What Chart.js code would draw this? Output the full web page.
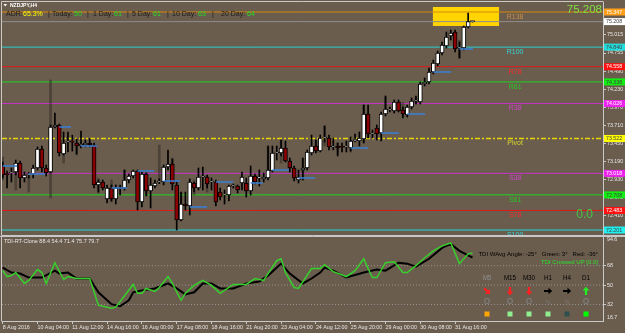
<!DOCTYPE html>
<html>
<head>
<meta charset="utf-8">
<script src="https://cdn.jsdelivr.net/npm/chart.js@4.4.1/dist/chart.umd.min.js"></script>
<style>
  html, body { margin: 0; padding: 0; background: #6B5D4E; overflow: hidden; }
  #wrap { position: relative; width: 625px; height: 333px; }
  canvas { position: absolute; left: 0; }
  #main { top: 0; }
  #tdi { top: 232px; }
</style>
</head>
<body>
<div id="wrap">
  <canvas id="main" width="625" height="236"></canvas>
  <canvas id="tdi" width="625" height="101"></canvas>
</div>
<script>
// NZDJPY H4 candles (bar index 0..108)
var opens  = [73.125,73.009,73.024,73.038,73.168,72.951,73.000,73.009,73.096,73.370,73.096,73.038,73.687,73.716,73.298,73.471,73.480,73.457,73.413,73.428,73.457,73.428,72.851,72.894,72.648,72.807,72.648,72.807,72.807,72.922,72.980,73.052,72.605,73.009,72.764,72.836,72.894,72.894,73.110,73.154,72.851,72.346,72.576,72.547,72.879,72.807,72.966,72.966,72.894,72.894,72.749,72.706,72.706,72.836,72.836,72.879,72.879,72.764,72.980,72.950,72.937,72.951,73.052,73.312,73.312,73.384,73.197,73.096,72.923,73.067,73.096,73.312,73.413,73.341,73.529,73.529,73.399,73.413,73.400,73.395,73.384,73.490,73.485,73.514,73.875,73.586,73.673,73.601,73.875,73.933,73.918,74.048,73.933,73.860,73.976,74.063,74.048,74.308,74.337,74.481,74.596,74.755,74.856,75.001,75.058,74.827,74.827,75.130,75.208];
var highs  = [73.182,73.052,73.096,73.211,73.197,73.038,73.030,73.139,73.399,73.413,73.139,73.716,73.889,73.731,73.615,73.615,73.570,73.514,73.630,73.500,73.520,73.457,72.923,72.923,72.851,72.851,72.851,72.851,73.067,73.009,73.067,73.067,73.038,73.024,72.951,72.923,72.940,73.139,73.356,73.226,72.894,72.749,72.749,72.937,72.894,73.096,73.110,72.995,72.951,72.923,72.807,72.778,72.851,72.865,72.851,73.038,72.951,73.125,73.009,73.067,73.024,73.413,73.413,73.413,73.500,73.485,73.240,73.125,73.067,73.240,73.356,73.572,73.500,73.572,73.702,73.572,73.529,73.457,73.457,73.485,73.543,73.586,73.615,74.005,74.005,73.644,73.716,73.904,74.135,73.976,74.077,74.077,73.976,74.005,74.106,74.135,74.337,74.395,74.539,74.654,74.784,74.914,75.058,75.087,75.087,74.914,75.145,75.332,75.220];
var lows   = [72.951,72.807,72.894,72.995,72.807,72.894,72.950,72.951,73.067,73.038,72.980,73.024,73.673,73.269,73.283,73.327,73.340,73.298,73.384,73.400,73.400,72.807,72.749,72.778,72.591,72.620,72.576,72.706,72.778,72.879,72.951,72.490,72.533,72.692,72.519,72.807,72.870,72.851,73.067,72.778,72.201,72.331,72.490,72.418,72.749,72.778,72.778,72.807,72.778,72.547,72.634,72.576,72.620,72.807,72.735,72.778,72.677,72.706,72.865,72.836,72.894,72.923,73.038,73.211,73.269,73.182,73.038,72.908,72.879,72.923,73.067,73.283,73.312,73.327,73.471,73.356,73.356,73.269,73.327,73.327,73.341,73.471,73.413,73.457,73.529,73.529,73.500,73.485,73.846,73.904,73.889,73.904,73.817,73.831,73.947,74.020,74.020,74.279,74.308,74.452,74.568,74.726,74.827,74.943,74.770,74.683,74.799,75.116,75.200];
var closes = [72.995,73.000,73.038,73.168,72.951,72.995,73.010,73.096,73.370,73.096,73.024,73.687,73.716,73.312,73.457,73.485,73.470,73.413,73.442,73.457,73.428,72.851,72.894,72.807,72.807,72.648,72.807,72.800,72.922,72.980,73.052,72.605,73.009,72.764,72.851,72.879,72.900,73.110,73.154,72.865,72.346,72.576,72.547,72.894,72.807,72.966,72.970,72.865,72.900,72.605,72.677,72.710,72.836,72.840,72.778,72.966,72.764,72.980,72.894,72.955,72.966,73.067,73.312,73.320,73.384,73.197,73.096,72.951,72.966,73.096,73.327,73.413,73.341,73.529,73.535,73.399,73.405,73.384,73.395,73.400,73.485,73.500,73.529,73.875,73.586,73.590,73.586,73.875,73.947,73.940,74.048,73.918,73.875,73.976,74.063,74.070,74.308,74.337,74.481,74.611,74.755,74.871,74.986,75.044,74.813,74.830,75.130,75.210,75.208];

// dark translucent shadow bars behind some candles
var ghostIdx  = [0,3,6,11,14,17,22,25,28,33,36,39,41,44,47,61,64,69,72,74,77,80,83,88,92,95,105];
var ghostHigh = [73.255,73.067,72.966,74.366,73.312,73.428,72.951,72.923,73.067,73.024,73.428,73.240,72.735,72.923,72.966,73.413,73.500,73.240,73.500,73.702,73.457,73.485,74.005,74.120,74.040,74.120,74.940];
var ghostLow  = [72.923,72.778,72.749,72.663,73.168,73.283,72.735,72.605,72.879,72.706,72.923,72.923,72.346,72.706,72.749,73.067,73.168,72.923,73.327,73.413,73.298,73.327,73.457,73.889,73.846,74.020,74.683];

// short blue marks
var blueStart = [0,6,13,18,25,31,37,43,49,57,62,68,80,87,93,99,105];
var blueEnd   = [3.3,9.7,15.7,21.7,28.6,34.8,40.8,47,53,59.8,65.8,71.8,84,91.1,97.1,103.1,108.1];
var bluePrice = [73.125,73.009,73.687,73.413,72.807,73.052,72.908,72.533,72.894,72.879,73.067,72.951,73.384,73.601,73.875,74.481,74.813];

// fibonacci pivot levels
var levelNames  = ['R138','R100','R78','R61','R38','Pivot','S38','S61','S78','S100'];
var levelPrices = [75.347,74.840,74.558,74.338,74.026,73.522,73.018,72.708,72.483,72.201];
var levelColors = ['#D8890F','#2ACFCF','#E01818','#1ED41E','#C832C8','#E6D800','#C832C8','#1ED41E','#E01818','#1ED8D8'];
var levelText   = ['#C89048','#33D6D6','#FF2A2A','#22CC22','#D040D0','#D8D830','#D040D0','#22CC22','#FF2A2A','#33D6D6'];
var tagColors   = ['#FF9E18','#22DDDD','#FF1010','#11EE11','#EE22EE','#FFFF00','#EE22EE','#11EE11','#FF1010','#22EEEE'];
var bidPrice = 75.208;

// yellow rectangle: bar range and price range
var boxBars   = [98.9, 114.1];
var boxPrices = [75.419, 75.145];

var priceTicks = [75.015,74.755,74.490,74.230,73.970,73.710,73.450,73.190,72.930,72.670,72.410];

// TDI sub window
var greenIdx = [0,1,2,3,5,6,8,9,10,12,14,15,17,20,22,25,26,30,31,32,33,35,36,38,39,41,42,44,46,48,50,53,56,58,60,61,63,64,65,67,68,71,73,74,76,79,81,83,84,85,86,88,90,92,93,95,97,99,101,103,105,107,108];
var greenVal = [63.4,57.9,58.8,61.6,51.5,54.3,64.4,61.6,51.5,70.8,55.2,57.9,56.1,56.1,31.4,28.6,29.5,50.6,42.4,42.4,46.9,44.2,47.8,57.9,51.5,35.9,42.4,49.7,54.3,49.7,42.4,50.6,50.6,56.1,54.3,60.7,72.6,74.4,61.6,47.8,46.9,65.3,65.3,68.9,62.5,57.9,63.4,74.4,65.3,57.0,57.0,70.8,71.7,61.6,61.6,68.0,75.4,81.8,86.4,89.1,69.9,79.0,79.7];
var blackIdx = [0,2,4,6,9,12,13,15,17,20,22,25,27,29,30,32,35,38,40,42,44,46,48,50,53,56,59,61,64,66,69,71,73,74,76,79,83,86,88,91,93,95,98,101,103,105,108];
var blackVal = [66.2,61.6,60.7,57.0,57.0,63.4,60.7,61.6,56.1,56.1,43.3,32.3,30.4,35.9,43.3,45.1,46.9,51.5,46.9,41.4,43.3,51.5,51.5,46.9,46.9,51.5,53.4,58.8,69.9,60.7,51.5,56.1,61.6,66.2,63.4,57.0,61.6,64.4,63.4,70.8,69.9,67.1,74.4,84.5,88.2,81.8,75.4];
var tdiLevels = [68, 50, 32];
var tdiMin = 16.7, tdiMax = 94.6;

var dateIdx = [0,8,16,24,32,40,48,56,64,72,80,88,96,104];
var dateLabels = ['8 Aug 2016','10 Aug 04:00','11 Aug 12:00','14 Aug 16:00','16 Aug 00:00','17 Aug 08:00','18 Aug 16:00','21 Aug 20:00','23 Aug 04:00','24 Aug 12:00','25 Aug 20:00','29 Aug 00:00','30 Aug 08:00','31 Aug 16:00'];

var tfNames  = ['M5','M15','M30','H1','H4','D1'];
var tfArrowAngles = [45, 90, 90, 0, 0, -90];
var tfArrowColors = ['#FF2020','#FF2020','#FF2020','#000000','#000000','#22EE22'];
var tfBoxes  = ['#FFA500','#90EE90','#90EE90','#90EE90','#2F4F4F','#00FF00'];

var X_MIN = -0.16, X_MAX = 138.0;
var FONT = '"Liberation Sans", Arial, sans-serif';
var FG = '#E6E6E6';
var BORDER = '#C8C8C8';

function yToLine(p) { return [{x: X_MIN, y: p}, {x: X_MAX, y: p}]; }

var mainSets = [];
levelPrices.forEach(function (p, i) {
    mainSets.push({
        type: 'line', data: yToLine(p), borderColor: levelColors[i],
        borderWidth: i == 5 ? 1.6 : 1, borderDash: i == 5 ? [5, 2, 2, 2] : [],
        pointRadius: 0, order: 10
    });
});
mainSets.push({ type: 'line', data: yToLine(bidPrice), borderColor: '#8E8E8E', borderWidth: 1, pointRadius: 0, order: 10 });
mainSets.push({
    type: 'bar', order: 8, grouped: false, barThickness: 2,
    data: ghostIdx.map(function (g, i) { return {x: g, y: [ghostLow[i], ghostHigh[i]]}; }),
    backgroundColor: 'rgba(40,34,28,0.45)'
});
mainSets.push({
    type: 'bar', order: 6, grouped: false, barThickness: 1,
    data: highs.map(function (h, i) { return {x: i, y: [lows[i], h]}; }),
    backgroundColor: '#000000'
});
mainSets.push({
    type: 'bar', order: 5, grouped: false, barThickness: 4, minBarLength: 1,
    data: opens.map(function (o, i) { return {x: i, y: [o, closes[i]]}; }),
    backgroundColor: opens.map(function (o, i) { return closes[i] >= o ? '#FFFFFF' : '#8B0000'; }),
    borderColor: '#000000', borderWidth: 1, borderSkipped: false
});
var blueData = [];
blueStart.forEach(function (s, i) {
    blueData.push({x: s, y: bluePrice[i]}, {x: blueEnd[i], y: bluePrice[i]}, {x: blueEnd[i] + 0.01, y: null});
});
mainSets.push({ type: 'line', data: blueData, borderColor: '#3A80D8', borderWidth: 1.5, pointRadius: 0, spanGaps: false, order: 4 });

var mainOverlay = {
    id: 'mainOverlay',
    beforeDatasetsDraw: function (chart) {
        var ctx = chart.ctx, xs = chart.scales.x, ys = chart.scales.y;
        var x0 = xs.getPixelForValue(boxBars[0]), x1 = xs.getPixelForValue(boxBars[1]);
        var y0 = ys.getPixelForValue(boxPrices[0]), y1 = ys.getPixelForValue(boxPrices[1]);
        ctx.save();
        ctx.fillStyle = '#FFD400';
        ctx.fillRect(x0, y0, x1 - x0, y1 - y0);
        ctx.restore();
    },
    afterDatasetsDraw: function (chart) {
        var ctx = chart.ctx, xs = chart.scales.x, ys = chart.scales.y, a = chart.chartArea;
        ctx.save();
        ctx.beginPath();
        ctx.rect(a.left, a.top, a.right - a.left, a.bottom - a.top);
        ctx.clip();
        ctx.font = '7px ' + FONT;
        ctx.textAlign = 'center';
        ctx.textBaseline = 'top';
        var lx = xs.getPixelForValue(117.8);
        levelNames.forEach(function (n, i) {
            ctx.fillStyle = levelText[i];
            ctx.fillText(n, lx, ys.getPixelForValue(levelPrices[i]) + 1.5);
        });
        // big price and zero readout
        ctx.textAlign = 'right';
        ctx.textBaseline = 'middle';
        ctx.font = '11.5px ' + FONT;
        ctx.fillStyle = '#80E040';
        ctx.fillText(bidPrice.toFixed(3), 602, 9.5);
        ctx.fillStyle = '#44C844';
        ctx.font = '12px ' + FONT;
        ctx.fillText('0.0', 593, 215);
        // title
        ctx.textAlign = 'left';
        ctx.fillStyle = '#FFFFFF';
        ctx.font = 'bold 5px ' + FONT;
        ctx.fillText('NZDJPY,H4', 10, 5.5);
        ctx.beginPath();
        ctx.moveTo(3.5, 4); ctx.lineTo(7, 4); ctx.lineTo(5.25, 6.5); ctx.closePath();
        ctx.fill();
        // ADR line
        var segs = [['ADR:', 6, '#1A1A1A'], ['65.3%', 23, '#FFFF00'], ['|', 48, '#1A1A1A'], ['Today:', 52, '#1A1A1A'], ['50', 74, '#22DD22'],
                    ['|', 87, '#1A1A1A'], ['1 Day:', 93, '#1A1A1A'], ['61', 114, '#22DD22'], ['|', 127, '#1A1A1A'], ['5 Day:', 132, '#1A1A1A'],
                    ['61', 153, '#22DD22'], ['|', 167, '#1A1A1A'], ['10 Day:', 172, '#1A1A1A'], ['63', 198, '#22DD22'], ['|', 212, '#1A1A1A'],
                    ['20 Day:', 221, '#1A1A1A'], ['64', 247, '#22DD22']];
        ctx.font = '7px ' + FONT;
        segs.forEach(function (s) { ctx.fillStyle = s[2]; ctx.fillText(s[0], s[1], 14.5); });
        ctx.restore();
    },
    afterDraw: function (chart) {
        var ctx = chart.ctx, ys = chart.scales.y;
        ctx.save();
        ctx.strokeStyle = BORDER;
        ctx.lineWidth = 1;
        ctx.beginPath();
        ctx.moveTo(1.5, 235.5); ctx.lineTo(1.5, 1.5); ctx.lineTo(603.5, 1.5);
        ctx.moveTo(1.5, 235.5); ctx.lineTo(625, 235.5);
        ctx.stroke();
        // price tags on the axis
        var tags = levelPrices.map(function (p, i) { return [p, tagColors[i]]; });
        tags.push([bidPrice, '#FFFFFF']);
        ctx.font = '5.3px ' + FONT;
        ctx.textBaseline = 'middle';
        ctx.textAlign = 'left';
        tags.forEach(function (t) {
            var y = ys.getPixelForValue(t[0]);
            ctx.fillStyle = t[1];
            ctx.fillRect(604, y - 3.5, 21, 7);
            var dark = ['#FF1010', '#EE22EE', '#FF9E18'].indexOf(t[1]) >= 0;
            ctx.fillStyle = dark ? '#FFFFFF' : '#404040';
            ctx.fillText(t[0].toFixed(3), 606, y + 0.3);
        });
        ctx.restore();
    }
};

new Chart(document.getElementById('main').getContext('2d'), {
    type: 'bar',
    data: { datasets: mainSets },
    options: {
        responsive: false, animation: false, devicePixelRatio: 1,
        layout: { padding: { left: 2, top: 2, bottom: 1, right: 0 } },
        plugins: { legend: { display: false }, tooltip: { enabled: false } },
        scales: {
            x: { type: 'linear', min: X_MIN, max: X_MAX, offset: false, display: false },
            y: {
                type: 'linear', position: 'right', min: 72.129, max: 75.491,
                afterFit: function (s) { s.width = 22; s.paddingTop = 0; s.paddingBottom = 0; },
                afterBuildTicks: function (s) { s.ticks = priceTicks.map(function (v) { return {value: v}; }); },
                grid: { drawOnChartArea: false, drawTicks: true, tickLength: 3, color: BORDER },
                border: { display: true, color: BORDER },
                ticks: { padding: 1, color: FG, font: { size: 5.3, family: FONT }, callback: function (v) { return v.toFixed(3); } }
            }
        }
    },
    plugins: [mainOverlay]
});

// ---- TDI window ----
var tdiSets = [];
tdiLevels.forEach(function (v) {
    tdiSets.push({ data: yToLine(v), borderColor: 'rgba(160,160,160,0.8)', borderWidth: 1, borderDash: [1, 2], pointRadius: 0, order: 5 });
});
tdiSets.push({ data: blackIdx.map(function (x, i) { return {x: x, y: blackVal[i]}; }), borderColor: '#000000', borderWidth: 2, pointRadius: 0, order: 2 });
tdiSets.push({ data: greenIdx.map(function (x, i) { return {x: x, y: greenVal[i]}; }), borderColor: '#36D02C', borderWidth: 1.5, pointRadius: 0, order: 1 });

function drawArrow(ctx, x, y, deg, color) {
    ctx.save();
    ctx.translate(x, y);
    ctx.rotate(deg * Math.PI / 180);
    ctx.fillStyle = color;
    ctx.beginPath();
    ctx.moveTo(-4, -1.1); ctx.lineTo(0.5, -1.1); ctx.lineTo(0.5, -3.3); ctx.lineTo(4.2, 0);
    ctx.lineTo(0.5, 3.3); ctx.lineTo(0.5, 1.1); ctx.lineTo(-4, 1.1);
    ctx.closePath();
    ctx.fill();
    ctx.restore();
}

var tdiOverlay = {
    id: 'tdiOverlay',
    afterDraw: function (chart) {
        var ctx = chart.ctx, ys = chart.scales.y;
        var off = 232;
        ctx.save();
        ctx.strokeStyle = BORDER;
        ctx.lineWidth = 1;
        ctx.beginPath();
        ctx.moveTo(0, 236.5 - off); ctx.lineTo(625, 236.5 - off);
        ctx.moveTo(1.5, 236.5 - off); ctx.lineTo(1.5, 321.5 - off);
        ctx.stroke();
        ctx.textBaseline = 'middle';
        ctx.textAlign = 'left';
        ctx.font = '5.3px ' + FONT;
        ctx.fillStyle = FG;
        ctx.fillText(tdiMax.toFixed(1), 607, ys.getPixelForValue(tdiMax) + 3);
        ctx.fillText(tdiMin.toFixed(1), 607, ys.getPixelForValue(tdiMin) - 3);
        ctx.font = '5.5px ' + FONT;
        ctx.fillText('TDI-RT-Clone 88.4 54.4 71.4 75.7 79.7', 4, 241 - off);
        ctx.textAlign = 'right';
        ctx.font = '6px ' + FONT;
        ctx.fillStyle = '#000000';
        ctx.fillText('TDI WAvg Angle: -25\u00B0   Green: 3\u00B0   Red: -36\u00B0', 598, 254 - off);
        ctx.fillStyle = '#2EE02E';
        ctx.fillText('TDI Crossed UP [0.0]', 598, 262 - off);
        var cx = [487, 510, 529, 548, 567, 586];
        ctx.textAlign = 'center';
        cx.forEach(function (x, i) {
            ctx.font = '6.3px ' + FONT;
            ctx.fillStyle = i == 0 ? '#8E8E8E' : '#000000';
            ctx.fillText(tfNames[i], x, 278 - off);
            drawArrow(ctx, x, 291 - off, tfArrowAngles[i], tfArrowColors[i]);
            ctx.fillStyle = '#7C7C7C';
            if (i == 3 || i == 4) {
                ctx.font = '6px ' + FONT;
                ctx.fillText('\u00BD', x, 302 - off);
            } else {
                ctx.font = 'bold 8.5px ' + FONT;
                ctx.fillText('O', x, 302 - off);
            }
            ctx.fillStyle = tfBoxes[i];
            ctx.fillRect(x - 2.5, 314 - off - 2.5, 5, 5);
        });
        ctx.restore();
    }
};

new Chart(document.getElementById('tdi').getContext('2d'), {
    type: 'line',
    data: { datasets: tdiSets },
    options: {
        responsive: false, animation: false, devicePixelRatio: 1,
        layout: { padding: { left: 2, top: 5, bottom: 0, right: 0 } },
        plugins: { legend: { display: false }, tooltip: { enabled: false } },
        scales: {
            x: {
                type: 'linear', min: X_MIN, max: X_MAX, offset: false, position: 'bottom',
                afterBuildTicks: function (s) { s.ticks = dateIdx.map(function (v) { return {value: v}; }); },
                afterFit: function (s) { s.height = 12; s.paddingLeft = 0; s.paddingRight = 0; },
                grid: { drawOnChartArea: false, drawTicks: true, tickLength: 3, color: BORDER },
                border: { display: true, color: BORDER },
                ticks: { align: 'start', maxRotation: 0, autoSkip: false, padding: 0, color: FG,
                         font: { size: 5.3, family: FONT },
                         callback: function (v, i) { return dateLabels[i]; } }
            },
            y: {
                type: 'linear', position: 'right', min: tdiMin, max: tdiMax,
                afterFit: function (s) { s.width = 22; s.paddingTop = 0; s.paddingBottom = 0; },
                afterBuildTicks: function (s) { s.ticks = tdiLevels.map(function (v) { return {value: v}; }); },
                grid: { drawOnChartArea: false, drawTicks: true, tickLength: 3, color: BORDER },
                border: { display: true, color: BORDER },
                ticks: { padding: 1, color: FG, font: { size: 5.3, family: FONT }, callback: function (v) { return String(v); } }
            }
        }
    },
    plugins: [tdiOverlay]
});
</script>
</body>
</html>
